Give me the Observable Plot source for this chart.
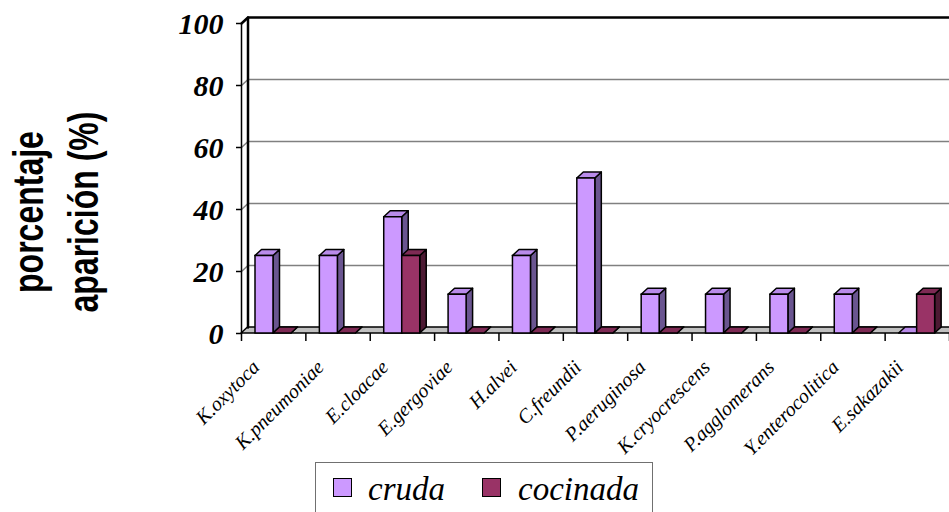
<!DOCTYPE html>
<html>
<head>
<meta charset="utf-8">
<script src="https://cdn.jsdelivr.net/npm/d3@7"></script>
<script src="https://cdn.jsdelivr.net/npm/@observablehq/plot@0.6"></script>
<style>
  html, body { margin: 0; padding: 0; background: #fff; overflow: hidden; }
  #wrap { position: relative; width: 949px; height: 512px; overflow: hidden; }
  #ytitle {
    position: absolute; width: 260px; height: 84px; left: -74px; top: 170px;
    font-family: "Liberation Sans", Arial, sans-serif; font-weight: bold; font-size: 32px;
    line-height: 42px; text-align: center; color: #000; white-space: nowrap;
    transform: rotate(-90deg) scaleY(1.3); transform-origin: 50% 50%;
  }
  #legend {
    position: absolute; left: 315px; top: 462px; width: 338px; height: 70px;
    border: 1.5px solid #707070; background: #fff; box-sizing: border-box;
  }
  .item { position: absolute; top: 0; font-family: "Liberation Serif", "Times New Roman", serif;
    font-style: italic; font-size: 33px; line-height: 1; color: #000; }
  .sw { position: absolute; width: 17px; height: 17px; border: 1.5px solid #000; }
</style>
</head>
<body>
<div id="wrap">
  <div id="chart"></div>
  <div id="ytitle">porcentaje<br>aparición (%)</div>
  <div id="legend"></div>
</div>
<script>
const categories = ["K.oxytoca","K.pneumoniae","E.cloacae","E.gergoviae","H.alvei","C.freundii","P.aeruginosa","K.cryocrescens","P.agglomerans","Y.enterocolitica","E.sakazakii"];
const cruda    = [25, 25, 37.5, 12.5, 25, 50, 12.5, 12.5, 12.5, 12.5, 0];
const cocinada = [0, 0, 25, 0, 0, 0, 0, 0, 0, 0, 12.5];
const seriesNames = ["cruda", "cocinada"];
const yTicks = [0, 20, 40, 60, 80, 100];

const W = 949, H = 512, mL = 241, mR = 0, mT = 23, mB = 179;
const n = categories.length;
const bandPx = (W - mL - mR) / n;
const yPx = (H - mT - mB) / 100;
const dX = 6.5 / bandPx;   // depth in x units
const dY = 6 / yPx;        // depth in y units

const styles = [
  {front: "#CC99FF", side: "#6A5590", top: "#B98BEA"},
  {front: "#993366", side: "#4D1A33", top: "#7E2A54"}
];
const offsets = [[14 / bandPx, 32 / bandPx], [32 / bandPx, 50 / bandPx]];
const seriesValues = [cruda, cocinada];

const marks = [];
// floor
marks.push(Plot.areaX([{y: 0, x1: 0, x2: n}, {y: dY, x1: dX, x2: n + dX}],
  {y: "y", x1: "x1", x2: "x2", fill: "#C0C0C0", stroke: "#000", strokeWidth: 1.5}));
// gridlines on back wall (with diagonal on left wall)
const grid = [];
yTicks.filter(t => t > 0 && t < 100).forEach(t => {
  grid.push({t, x: 0, y: t}, {t, x: dX, y: t + dY}, {t, x: n + 1, y: t + dY});
});
marks.push(Plot.line(grid, {x: "x", y: "y", z: "t", stroke: "#808080", strokeWidth: 1.5}));
// top edge of wall
marks.push(Plot.line([{x: 0, y: 100}, {x: dX, y: 100 + dY}, {x: n + 1, y: 100 + dY}],
  {x: "x", y: "y", stroke: "#000", strokeWidth: 2.5}));
// left wall back edge
marks.push(Plot.line([{x: dX, y: dY}, {x: dX, y: 100 + dY}], {x: "x", y: "y", stroke: "#000", strokeWidth: 2.5}));
// left wall front edge
marks.push(Plot.line([{x: 0, y: 0}, {x: 0, y: 100}], {x: "x", y: "y", stroke: "#000", strokeWidth: 1.5}));
// y ticks
marks.push(Plot.ruleY(yTicks, {y: d => d, x1: -5 / bandPx, x2: 0, stroke: "#000", strokeWidth: 1.5}));
// x ticks
marks.push(Plot.ruleX(d3.range(n + 1), {x: d => d, y1: -8 / yPx, y2: 0, stroke: "#000", strokeWidth: 1.5}));

// bars
seriesValues.forEach((vals, s) => {
  const bars = vals.map((v, i) => ({id: i, v, x1: i + offsets[s][0], x2: i + offsets[s][1]}));
  const side = bars.flatMap(b => [
    {id: b.id, x: b.x2, y1: 0, y2: b.v},
    {id: b.id, x: b.x2 + dX, y1: dY, y2: b.v + dY}
  ]);
  const top = bars.flatMap(b => [
    {id: b.id, y: b.v, x1: b.x1, x2: b.x2},
    {id: b.id, y: b.v + dY, x1: b.x1 + dX, x2: b.x2 + dX}
  ]);
  marks.push(Plot.areaY(side, {x: "x", y1: "y1", y2: "y2", z: "id", fill: styles[s].side, stroke: "#000", strokeWidth: 1.5, strokeLinejoin: "round"}));
  marks.push(Plot.areaX(top, {y: "y", x1: "x1", x2: "x2", z: "id", fill: styles[s].top, stroke: "#000", strokeWidth: 1.5, strokeLinejoin: "round"}));
  marks.push(Plot.rect(bars.filter(b => b.v > 0), {x1: "x1", x2: "x2", y1: 0, y2: "v", fill: styles[s].front, stroke: "#000", strokeWidth: 1.5}));
});

// y tick labels
marks.push(Plot.text(yTicks, {x: 0, y: d => d, text: d => String(d), textAnchor: "end", dx: -18, dy: 1,
  fontSize: 30, fontWeight: "bold", fontStyle: "italic", fontFamily: "Liberation Serif, Times New Roman, serif", fill: "#000"}));
// x labels
marks.push(Plot.text(categories, {x: (d, i) => i + 0.5, y: 0, text: d => d, rotate: -45, textAnchor: "end",
  lineAnchor: "bottom", dx: -13, dy: 35, fontSize: 20, fontStyle: "italic", fontFamily: "Liberation Serif, Times New Roman, serif", fill: "#000"}));

const chart = Plot.plot({
  width: W, height: H,
  marginLeft: mL, marginRight: mR, marginTop: mT, marginBottom: mB,
  x: {type: "linear", domain: [0, n], axis: null},
  y: {type: "linear", domain: [0, 100], axis: null},
  style: {background: "transparent", overflow: "visible"},
  marks
});
document.getElementById("chart").appendChild(chart);

// legend
const legend = document.getElementById("legend");
const legendPos = [{sw: 17, tx: 52}, {sw: 166, tx: 202}];
seriesNames.forEach((name, s) => {
  const sw = document.createElement("div");
  sw.className = "sw";
  sw.style.left = legendPos[s].sw + "px";
  sw.style.top = "15px";
  sw.style.background = styles[s].front;
  legend.appendChild(sw);
  const t = document.createElement("div");
  t.className = "item";
  t.style.left = legendPos[s].tx + "px";
  t.style.top = "10px";
  t.textContent = name;
  legend.appendChild(t);
});
</script>
</body>
</html>
